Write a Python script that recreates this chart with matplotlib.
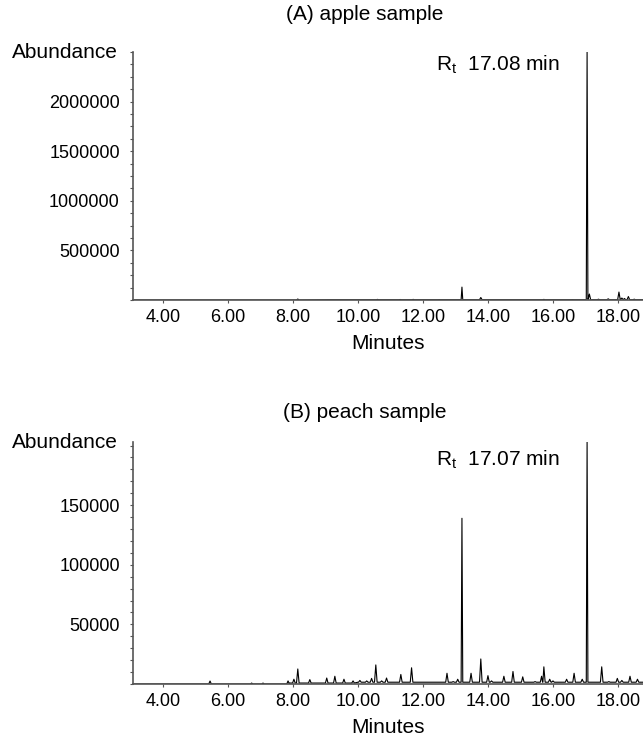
import matplotlib
matplotlib.use('Agg')
import matplotlib.pyplot as plt
from matplotlib.ticker import MultipleLocator, FixedLocator

plt.rcParams['font.family'] = ['Liberation Sans', 'DejaVu Sans']
plt.rcParams['mathtext.default'] = 'regular'

# (A) apple sample: peaks (minutes, abundance)
apple_t = [8.15, 10.6, 11.3, 11.7, 12.5, 13.2, 13.78, 15.72, 16.6, 17.05, 17.12,
           17.4, 17.7, 18.03, 18.12, 18.2, 18.32, 18.5]
apple_h = [10000, 6000, 5000, 6000, 4000, 130000, 25000, 6000, 4000, 2500000, 60000,
           8000, 12000, 80000, 20000, 15000, 35000, 8000]
apple_base_t = [3.08, 9.15, 18.77]
apple_base_h = [0, 3000, 3000]

# (B) peach sample
peach_t = [5.45, 6.73, 7.08, 7.85, 8.03, 8.15, 8.52, 9.04, 9.29, 9.57, 9.85, 10.06,
           10.27, 10.42, 10.55, 10.73, 10.88, 11.32, 11.65, 12.37, 12.74, 12.93,
           13.07, 13.2, 13.48, 13.78, 14.0, 14.11, 14.49, 14.77, 15.07, 15.45,
           15.65, 15.72, 15.9, 16.0, 16.42, 16.65, 16.9, 17.05, 17.3, 17.5, 17.72,
           17.98, 18.12, 18.37, 18.6]
peach_h = [2500, 800, 800, 2600, 4000, 12600, 3700, 5000, 6500, 4000, 2600, 3000,
           2600, 4700, 16000, 2600, 5000, 8000, 13600, 1500, 9000, 2000,
           4000, 139000, 9000, 21000, 7000, 2600, 6500, 10500, 6000, 2000,
           6500, 14400, 4000, 2600, 4000, 9000, 4000, 203000, 1500, 14400, 2000,
           4700, 3000, 6500, 4000]
peach_base_t = [3.08, 7.9, 10.0, 18.77]
peach_base_h = [0, 800, 1500, 1500]

apple_ticks = [500000, 1000000, 1500000, 2000000]
peach_ticks = [50000, 100000, 150000]
x_ticks = [4, 6, 8, 10, 12, 14, 16, 18]


def trace(pt, ph, bt, bh, w):
    pts = list(zip(bt, bh))
    for t, h in zip(pt, ph):
        b = bh[0]
        for k in range(len(bt)):
            if bt[k] <= t:
                b = bh[k]
        ww = 0.025 if h > 100000 else w
        pts += [(t - ww, b), (t, h), (t + ww, b)]
    pts.sort()
    return [p[0] for p in pts], [p[1] for p in pts]


fig = plt.figure(figsize=(6.43, 7.5), dpi=100)
W, H = 643.0, 750.0


def panel(top, bottom, title, title_y, xs, ys, ymax, ticks, minor, rt, rt_y, lpad):
    ax = fig.add_axes([133 / W, 1 - bottom / H, 510 / W, (bottom - top) / H])
    ax.plot(xs, ys, color='black', linewidth=0.8)
    ax.set_xlim(3.08, 18.77)
    ax.set_ylim(0, ymax)
    ax.spines['right'].set_visible(False)
    ax.spines['top'].set_visible(False)
    for s in ['left', 'bottom']:
        ax.spines[s].set_color('#555555')
        ax.spines[s].set_linewidth(1.2)
    ax.xaxis.set_major_locator(FixedLocator(x_ticks))
    ax.set_xticklabels(['%.2f' % v for v in x_ticks])
    ax.yaxis.set_major_locator(FixedLocator(ticks))
    ax.set_yticklabels([str(v) for v in ticks])
    ax.yaxis.set_minor_locator(MultipleLocator(minor))
    ax.tick_params(axis='both', which='both', direction='out', length=2.5,
                   width=0.8, color='#555555', labelsize=13)
    ax.tick_params(axis='y', pad=7)
    ax.tick_params(axis='x', pad=4)
    ax.set_xlabel('Minutes', fontsize=15, labelpad=lpad)
    fig.text(365 / W, 1 - title_y / H, title, fontsize=15, ha='center', va='center')
    fig.text(118 / W, 1 - top / H, 'Abundance', fontsize=15, ha='right', va='center')
    fig.text(436 / W, 1 - rt_y / H, rt, fontsize=15, ha='left', va='center')
    return ax


x, y = trace(apple_t, apple_h, apple_base_t, apple_base_h, 0.04)
panel(52, 300, '(A) apple sample', 15, x, y, 2500000, apple_ticks, 125000,
      r'R$_t$  17.08 min', 65, 6)

x, y = trace(peach_t, peach_h, peach_base_t, peach_base_h, 0.04)
panel(442, 684, '(B) peach sample', 412, x, y, 203000, peach_ticks, 10000,
      r'R$_t$  17.07 min', 460, 6)

plt.savefig('out.png', dpi=100)
